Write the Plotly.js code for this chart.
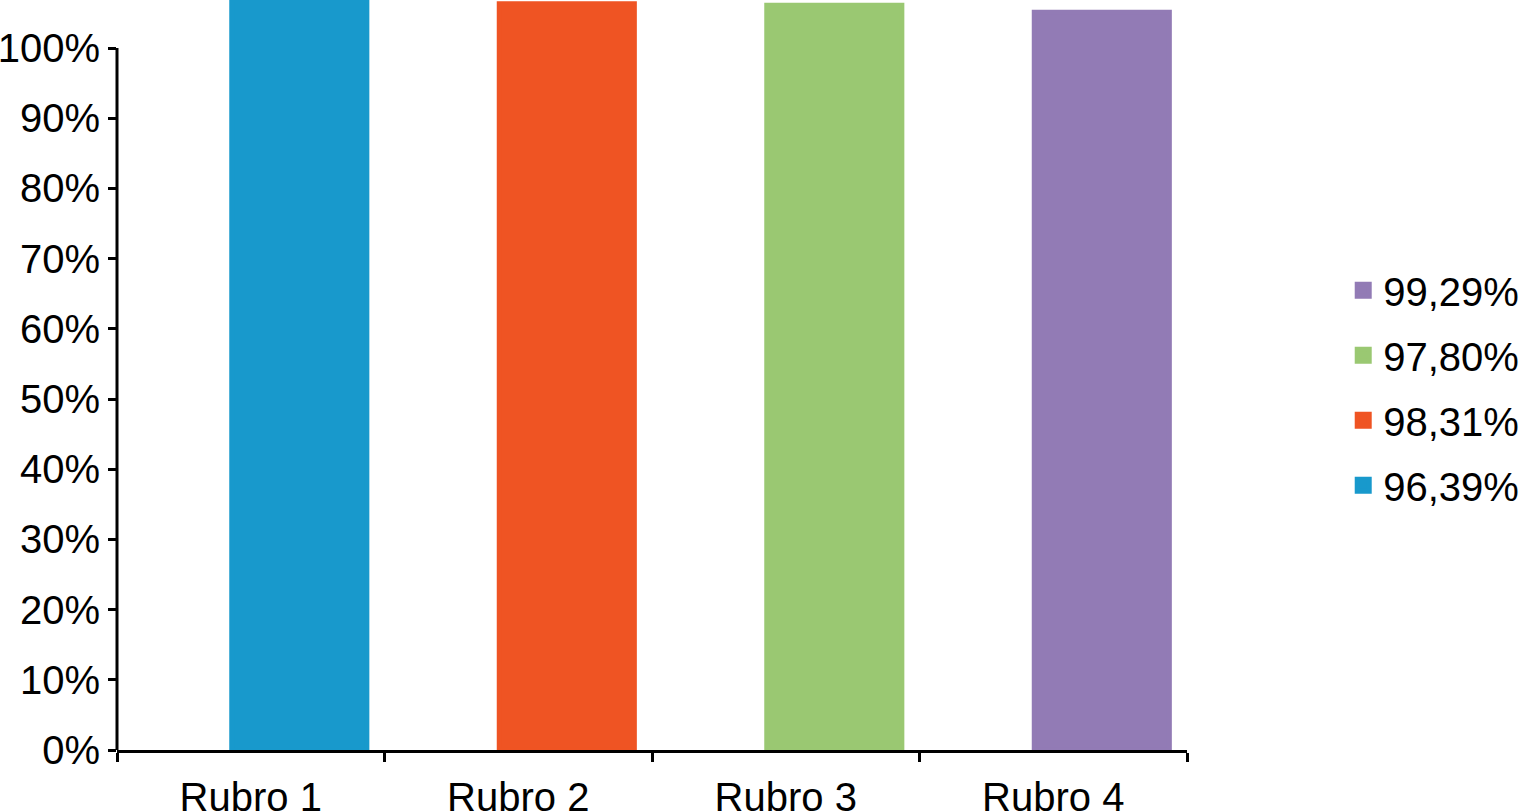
<!DOCTYPE html>
<html>
<head>
<meta charset="utf-8">
<script src="https://cdn.plot.ly/plotly-3.0.1.min.js"></script>
<style>
  html, body { margin: 0; padding: 0; background: #fff; }
  #myDiv { width: 1525px; height: 812px; }
</style>
</head>
<body>
<div id="myDiv"></div>
<script>
var categories = ['Rubro 1', 'Rubro 2', 'Rubro 3', 'Rubro 4'];
var seriesNames = ['96,39%', '98,31%', '97,80%', '99,29%'];
var values = [106.9, 106.3, 106.1, 105.1];
var colors = ['#1899cc', '#ef5423', '#9ac872', '#927bb5'];
var yTicks = [0, 10, 20, 30, 40, 50, 60, 70, 80, 90, 100];

var data = [];
for (var i = 0; i < categories.length; i++) {
  data.push({
    x: [categories[i]],
    y: [values[i]],
    name: seriesNames[i],
    legendgroup: 'g' + i,
    legendrank: (categories.length - i) * 10,  // last series on top
    type: 'bar',
    width: 0.505,
    offset: -0.071,
    // same-colour outline so the legend square gets bigger
    marker: {color: colors[i], line: {color: colors[i], width: 5}},
    hoverinfo: 'skip'
  });
}

var font = {family: 'Liberation Sans, Arial, Helvetica, sans-serif', size: 40, color: '#000'};

var layout = {
  width: 1525,
  height: 812,
  margin: {l: 117, r: 338, t: 0, b: 62, autoexpand: false},
  paper_bgcolor: '#fff',
  plot_bgcolor: '#fff',
  barmode: 'overlay',
  font: font,
  showlegend: true,
  legend: {
    traceorder: 'grouped',
    x: 1.146, xanchor: 'left',
    y: 0.483, yanchor: 'middle',
    font: {family: font.family, size: 40, color: '#000'},
    itemwidth: 30,
    tracegroupgap: 10
  },
  xaxis: {
    type: 'category',
    range: [-0.5, 3.5],
    showline: true, linecolor: '#000', linewidth: 3,
    ticks: 'outside', tickson: 'boundaries', ticklen: 9, tickwidth: 3, tickcolor: '#000',
    ticklabelstandoff: 10,
    showgrid: false, zeroline: false,
    tickfont: font
  },
  yaxis: {
    range: [0, 106.84],
    tickvals: yTicks,
    ticktext: yTicks.map(function (v) { return v + '%'; }),
    ticks: 'outside', ticklen: 8, tickwidth: 3, tickcolor: '#000',
    showline: false, showgrid: false, zeroline: false,
    tickfont: font
  },
  shapes: [{
    type: 'line', xref: 'paper', yref: 'y',
    x0: 0, x1: 0, y0: 0, y1: 100,
    line: {color: '#000', width: 3}
  }]
};

Plotly.newPlot('myDiv', data, layout, {displayModeBar: false, staticPlot: true});
</script>
</body>
</html>
